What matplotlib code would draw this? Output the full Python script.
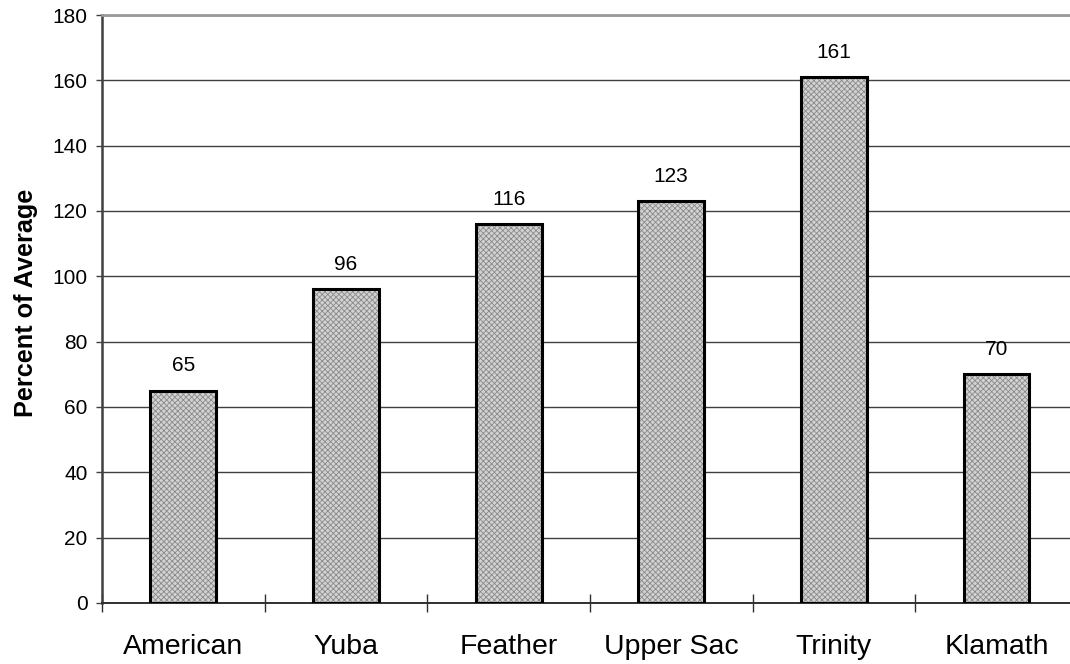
import matplotlib
matplotlib.use('Agg')
import matplotlib.pyplot as plt
import numpy as np

plt.rcParams['font.family'] = ['Liberation Sans', 'DejaVu Sans']
plt.rcParams['hatch.linewidth'] = 0.6

rivers = ['American', 'Yuba', 'Feather', 'Upper Sac', 'Trinity', 'Klamath']
percent = [65, 96, 116, 123, 161, 70]

fig = plt.figure(figsize=(10.7, 6.64), dpi=100)
ax = fig.add_axes([0.0953, 0.0919, 0.912, 0.8855])

x = np.arange(len(rivers))

# grid lines behind the bars
ax.set_axisbelow(True)
ax.yaxis.grid(True, color='#404040', linewidth=1.0)

# textured fill, then a black outline on top
ax.bar(x, percent, width=0.405, color='#d2d2d2', edgecolor='#8a8a8a',
       hatch='xxxxxx', linewidth=0, zorder=2)
ax.bar(x, percent, width=0.405, facecolor='none', edgecolor='black',
       linewidth=2.2, zorder=3)

for xi, v in zip(x, percent):
    ax.annotate(str(v), (xi, v), xytext=(0, 11), textcoords='offset points',
                ha='center', va='bottom', fontsize=15)

ax.set_xlim(-0.5, len(rivers) - 0.5)
ax.set_ylim(0, 180)
ax.set_yticks(np.arange(0, 181, 20))

# labels at the centres, tick marks at category boundaries
ax.set_xticks(x)
ax.set_xticklabels(rivers, fontsize=20.5)
ax.set_xticks(np.arange(-0.5, len(rivers), 1.0), minor=True)
ax.tick_params(axis='x', which='major', length=0, pad=22)
ax.tick_params(axis='x', which='minor', direction='inout', length=13,
               width=1.0, color='#303030')
ax.tick_params(axis='y', direction='out', length=4.5, width=1.0,
               color='#404040', labelsize=15, pad=6)

ax.set_ylabel('Percent of Average', fontsize=18.2, fontweight='bold')
ax.yaxis.set_label_coords(-0.066, 0.51)

ax.spines['right'].set_visible(False)
ax.spines['top'].set_color('#999999')
ax.spines['top'].set_linewidth(2.0)
ax.spines['left'].set_color('#404040')
ax.spines['left'].set_linewidth(1.8)
ax.spines['bottom'].set_color('#303030')
ax.spines['bottom'].set_linewidth(1.4)

plt.savefig('out.png', dpi=100)
